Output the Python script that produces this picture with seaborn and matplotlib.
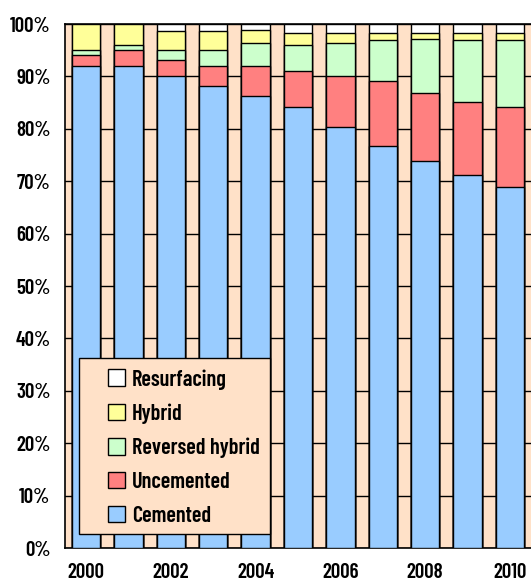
import matplotlib
matplotlib.use("Agg")
import matplotlib.pyplot as plt
import seaborn as sns
import numpy as np
import pandas as pd
from matplotlib.patches import Patch, Rectangle

years = [2000, 2001, 2002, 2003, 2004, 2005, 2006, 2007, 2008, 2009, 2010]
cemented = [92.0, 92.0, 90.1, 88.2, 86.3, 84.1, 80.3, 76.8, 73.8, 71.1, 68.8]
uncemented = [2.0, 3.1, 3.1, 3.8, 5.7, 6.9, 9.8, 12.3, 13.0, 14.1, 15.3]
reversed_hybrid = [1.1, 0.8, 1.9, 3.1, 4.3, 4.9, 6.2, 7.8, 10.3, 11.7, 12.8]
hybrid = [4.9, 4.1, 3.6, 3.6, 2.6, 2.3, 1.9, 1.3, 1.1, 1.3, 1.3]
resurfacing = [0.0, 0.0, 1.3, 1.3, 1.1, 1.8, 1.8, 1.8, 1.8, 1.8, 1.8]

series_names = ["Cemented", "Uncemented", "Reversed hybrid", "Hybrid", "Resurfacing"]
series_vals = [cemented, uncemented, reversed_hybrid, hybrid, resurfacing]
series_colors = ["#99CCFF", "#FF8080", "#CCFFCC", "#FFFF99", "#FFFFFF"]
ytick_labels = ["0%", "10%", "20%", "30%", "40%", "50%", "60%", "70%", "80%", "90%", "100%"]
xtick_years = [2000, 2002, 2004, 2006, 2008, 2010]

sns.set_theme(style="white")
plt.rcParams['font.family'] = ['Barlow Condensed', 'DejaVu Sans']
plt.rcParams['text.color'] = 'black'
plt.rcParams['xtick.color'] = 'black'
plt.rcParams['ytick.color'] = 'black'

TICKFONT = dict(family=['Barlow Condensed', 'DejaVu Sans'], weight=600, size=15)
LEGFONT = dict(family=['Barlow Condensed', 'DejaVu Sans'], weight=600, size=16)

peach = "#FFE1C8"
fig = plt.figure(figsize=(5.31, 5.81), dpi=100)
ax = fig.add_axes([65 / 531, 33 / 581, 466 / 531, 524 / 581])
ax.set_facecolor(peach)

df = pd.DataFrame({"year": [str(y) for y in years]})
cum = np.zeros(len(years))
for name, vals in zip(series_names, series_vals):
    cum = cum + np.array(vals)
    df[name] = cum.copy()

# draw cumulative bars from top layer down
for name, color in reversed(list(zip(series_names, series_colors))):
    sns.barplot(data=df, x="year", y=name, color=color, edgecolor="black",
                linewidth=1.0, width=0.67, saturation=1, ax=ax, zorder=3)

ax.set_ylim(0, 100)
ax.set_xlim(-0.5, -0.5 + 466 / 42.6)
ax.set_yticks(np.arange(0, 101, 10))
ax.set_yticklabels(ytick_labels, fontdict=TICKFONT)
ax.yaxis.grid(True, color="black", linewidth=1.0, zorder=0)
ax.set_axisbelow(True)

ax.set_xticks([years.index(y) for y in xtick_years])
ax.set_xticklabels([str(y) for y in xtick_years], fontdict=TICKFONT)
ax.set_xticks(np.arange(-0.5, len(years), 1.0), minor=True)
ax.tick_params(axis="x", which="major", length=0, pad=10.5)
ax.tick_params(axis="x", which="minor", length=5, width=1, color="black", direction="out")
ax.tick_params(axis="y", which="major", length=5, width=1, color="black", direction="out", pad=5.5)
ax.set_xlabel("")
ax.set_ylabel("")

for s in ["left", "bottom", "top"]:
    ax.spines[s].set_visible(True)
    ax.spines[s].set_color("black")
    ax.spines[s].set_linewidth(1.2)
ax.spines["right"].set_visible(False)

# legend frame
def ax_x(px):
    return (px - 65) / 466

def ax_y(py):
    return (548 - py) / 524

frame = Rectangle((ax_x(79), ax_y(534)), 191 / 466, 176 / 524, transform=ax.transAxes,
                  facecolor=peach, edgecolor="black", linewidth=1.0, zorder=4)
ax.add_patch(frame)

handles = [Patch(facecolor=c, edgecolor="black", linewidth=1.0, label=n)
           for n, c in reversed(list(zip(series_names, series_colors)))]
leg = ax.legend(handles=handles, loc="upper left",
                bbox_to_anchor=(ax_x(108), ax_y(369)),
                frameon=False, prop=LEGFONT,
                handlelength=0.77, handleheight=0.77, labelspacing=0.62,
                borderpad=0, handletextpad=0.3, borderaxespad=0)
leg.set_zorder(5)

fig.savefig("out.png", dpi=100)
